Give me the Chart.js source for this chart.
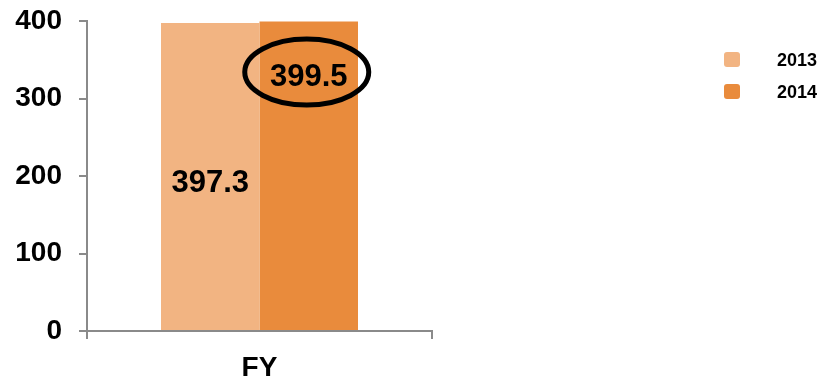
<!DOCTYPE html>
<html>
<head>
<meta charset="utf-8">
<script src="https://cdn.jsdelivr.net/npm/chart.js@4"></script>
<style>
  html, body { margin: 0; padding: 0; background: #fff; }
  #wrap { width: 823px; height: 378px; }
</style>
</head>
<body>
<div id="wrap"><canvas id="fy"></canvas></div>
<script>
const categories = ["FY"];
const seriesNames = ["2013", "2014"];
const values2013 = [397.3];
const values2014 = [399.5];
const yTicks = [0, 100, 200, 300, 400];

const colors = ["#F2B482", "#E98B3C"];
const FONT = "'Liberation Sans', Arial, sans-serif";

// value labels inside the bars, at a fraction of the bar height
const barLabels = {
  id: "barLabels",
  afterDatasetsDraw(chart) {
    const ctx = chart.ctx;
    const yScale = chart.scales.y;
    const fractions = [0.48, 0.82];
    ctx.save();
    ctx.font = "bold 31px " + FONT;
    ctx.fillStyle = "#000";
    ctx.textAlign = "center";
    ctx.textBaseline = "middle";
    chart.data.datasets.forEach((ds, i) => {
      const meta = chart.getDatasetMeta(i);
      meta.data.forEach((bar, j) => {
        const v = ds.data[j];
        const y = yScale.getPixelForValue(v * fractions[i]);
        ctx.fillText(v.toFixed(1), bar.x, y);
        if (i === 1) {
          // highlight ring round the 2014 value
          ctx.beginPath();
          ctx.lineWidth = 5;
          ctx.strokeStyle = "#000";
          ctx.ellipse(bar.x - 2, y - 5, 62, 33, 0, 0, Math.PI * 2);
          ctx.stroke();
        }
      });
    });
    ctx.restore();
  }
};

// legend on the right, square then text
const sideLegend = {
  id: "sideLegend",
  afterDraw(chart) {
    const ctx = chart.ctx;
    ctx.save();
    ctx.font = "bold 18px " + FONT;
    ctx.textBaseline = "middle";
    ctx.textAlign = "left";
    chart.data.datasets.forEach((ds, i) => {
      const cy = 60 + i * 32;
      ctx.fillStyle = ds.backgroundColor;
      ctx.beginPath();
      ctx.roundRect(724, cy - 8, 16, 15, 3);
      ctx.fill();
      ctx.fillStyle = "#000";
      ctx.fillText(ds.label, 777, cy + 1);
    });
    ctx.restore();
  }
};

new Chart(document.getElementById("fy"), {
  type: "bar",
  data: {
    labels: categories,
    datasets: [
      { label: seriesNames[0], data: values2013, backgroundColor: colors[0], borderWidth: 0 },
      { label: seriesNames[1], data: values2014, backgroundColor: colors[1], borderWidth: 0 }
    ]
  },
  options: {
    responsive: true,
    maintainAspectRatio: false,
    animation: false,
    categoryPercentage: 0.571,
    barPercentage: 1.0,
    layout: { padding: { top: 21, right: 391, left: 0, bottom: 0 } },
    plugins: { legend: { display: false }, tooltip: { enabled: false } },
    scales: {
      x: {
        grid: { display: true, drawOnChartArea: false, drawTicks: true, tickLength: 8, color: "#8a8a8a", lineWidth: 2, offset: true },
        border: { color: "#8a8a8a", width: 2 },
        ticks: { color: "#000", font: { family: FONT, size: 28, weight: "bold" }, padding: 12 },
        afterFit(scale) { scale.height = 47; scale.paddingLeft = 0; scale.paddingRight = 0; }
      },
      y: {
        min: 0,
        max: 400,
        afterBuildTicks(scale) { scale.ticks = yTicks.map(v => ({ value: v })); },
        grid: { display: true, drawOnChartArea: false, drawTicks: true, tickLength: 8, color: "#8a8a8a", lineWidth: 2 },
        border: { color: "#8a8a8a", width: 2 },
        ticks: { color: "#000", font: { family: FONT, size: 28, weight: "bold" }, padding: 17 },
        afterFit(scale) { scale.width = 87; scale.paddingTop = 0; scale.paddingBottom = 0; }
      }
    }
  },
  plugins: [barLabels, sideLegend]
});
</script>
</body>
</html>
